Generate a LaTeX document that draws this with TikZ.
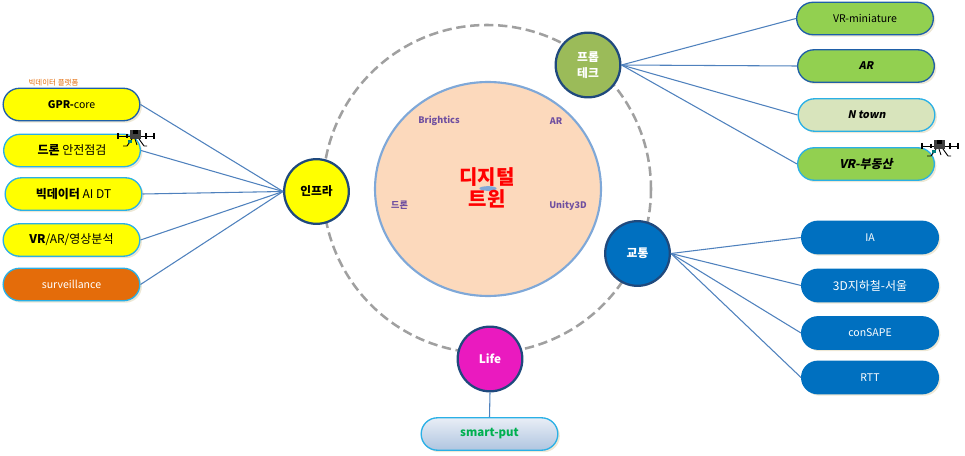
\documentclass[tikz,border=0pt]{standalone}
\usepackage{fontspec}
\setmainfont{Noto Sans CJK KR}
\newfontfamily\slantfont[FakeSlant=0.2]{Noto Sans CJK KR}
\usetikzlibrary{shapes.misc,shapes.geometric,shadows}

\definecolor{pillyellow}{HTML}{FFFF00}
\definecolor{pillgreen}{HTML}{92D050}
\definecolor{pillpale}{HTML}{D8E4BC}
\definecolor{pillblue}{HTML}{0070C0}
\definecolor{pillorange}{HTML}{E46C0A}
\definecolor{edgedark}{HTML}{1F5FA8}
\definecolor{edgecyan}{HTML}{2AB0E6}
\definecolor{linkblue}{HTML}{4F81BD}
\definecolor{ringnavy}{HTML}{1F497D}
\definecolor{ringgray}{HTML}{A0A0A0}
\definecolor{coreorange}{HTML}{FCD9BC}
\definecolor{coreedge}{HTML}{7FA8D8}
\definecolor{corepurple}{HTML}{6F4FA0}
\definecolor{techgreen}{HTML}{9BBB59}
\definecolor{lifepink}{HTML}{EA1ABF}
\definecolor{beige}{HTML}{EEE8D5}
\definecolor{puttop}{HTML}{E9EEF6}
\definecolor{putbottom}{HTML}{AFC5E0}
\definecolor{putgreen}{HTML}{00B050}

\tikzset{
	pill/.style={rounded rectangle,draw=edgedark,line width=1pt,minimum width=102.5pt,minimum height=24.3pt,inner sep=0pt,font=\fontsize{9}{10}\selectfont,drop shadow={shadow xshift=1.5pt,shadow yshift=-1.5pt,fill=beige,opacity=1}},
	latinpill/.style={pill,font=\fontsize{7.9}{10}\selectfont},
	hub/.style={circle,draw=ringnavy,line width=1.7pt,minimum size=48.5pt,inner sep=0pt,align=center,font=\fontsize{8.8}{12}\selectfont\bfseries},
	link/.style={linkblue,line width=0.8pt},
	corelabel/.style={text=corepurple,font=\fontsize{6.8}{9}\selectfont\bfseries},
	dronepic/.pic={
		\draw[black,line width=0.6pt] (-18,-1) -- (18,-1);
		\draw[black,line width=0.9pt] (-18,-4) -- (-18,2) (18,-4) -- (18,2) (10,-4) -- (10,2) (-9,-3) -- (-9,1);
		\fill[black!75] (-6,-7) rectangle (5,2);
		\fill[black] (-3,-7) rectangle (2,-3);
		\draw[black,line width=0.7pt] (-4,2) -- (-9,9) (3,2) -- (8,9) (8,9) -- (11,9) (-9,9) -- (-13,9) (-1,2) -- (1,8);
		\fill[teal] (-8,3) rectangle (-4,6);
	}
}

\begin{document}
\begin{tikzpicture}[x=0.75pt,y=-0.75pt]
	\useasboundingbox (0,0) rectangle (965,456);

	\draw[ringgray,line width=1.9pt,dash pattern=on 7pt off 3.5pt] (487,189) circle[radius=164];
	\node[ellipse,draw=coreedge,fill=coreorange,line width=1.6pt,minimum width=169.5pt,minimum height=160.5pt,inner sep=0pt] (core) at (488,189) {};
	\node[ellipse,fill=coreedge,minimum width=13pt,minimum height=3.5pt,inner sep=0pt] (coredot) at (488,188.5) {};
	\node[text=red,font=\fontsize{15}{17}\selectfont\bfseries,align=center] (coretitle) at (487,188) {디지털\\트윈};
	\node[corelabel] (brightics) at (439,121) {Brightics};
	\node[corelabel] (coreAR) at (556,121) {AR};
	\node[corelabel] (coredrone) at (399.5,205.5) {드론};
	\node[corelabel] (unity) at (568,205.5) {Unity3D};

	\node[hub,fill=pillyellow] (infra) at (316.5,191.5) {인프라};
	\node[hub,fill=techgreen,text=white] (tech) at (588,65) {프롭\\테크};
	\node[hub,fill=pillblue,text=white] (traffic) at (637.5,253.5) {교통};
	\node[hub,fill=lifepink,text=white] (life) at (490,359) {Life};

	\node[latinpill,fill=pillyellow] (gprcore) at (71.5,104.5) {{\bfseries GPR-}core};
	\node[pill,fill=pillyellow,draw=edgecyan] (dronecheck) at (72,150.5) {{\bfseries 드론} 안전점검};
	\node[pill,fill=pillyellow,draw=edgecyan] (bigdata) at (73.5,194) {{\bfseries 빅데이터} AI DT};
	\node[pill,fill=pillyellow,draw=edgecyan] (vrar) at (71.5,240) {{\bfseries VR}/AR/영상분석};
	\node[latinpill,fill=pillorange,text=white,draw=edgecyan] (surveillance) at (71.5,284.5) {surveillance};
	\node[text=pillorange,font=\fontsize{5.6}{6}\selectfont] (platform) at (53.5,82.5) {빅데이터 플랫폼};

	\node[latinpill,fill=pillgreen] (vrmini) at (865,18.5) {VR-miniature};
	\node[latinpill,fill=pillgreen] (techAR) at (866,66) {\slantfont\bfseries AR};
	\node[latinpill,fill=pillpale,draw=edgecyan] (ntown) at (866.5,115) {\slantfont\bfseries N town};
	\node[pill,fill=pillgreen,draw=edgecyan] (vrestate) at (866,164) {\slantfont\bfseries VR-부동산};

	\node[latinpill,fill=pillblue,draw=pillblue,text=white] (ia) at (870,237.5) {IA};
	\node[pill,fill=pillblue,draw=pillblue,text=white] (subway) at (870,285.5) {3D지하철-서울};
	\node[latinpill,fill=pillblue,draw=pillblue,text=white] (consape) at (870,333) {conSAPE};
	\node[latinpill,fill=pillblue,draw=pillblue,text=white] (rtt) at (870,377.5) {RTT};

	\node[pill,draw=edgecyan,top color=puttop,bottom color=putbottom,text=putgreen,font=\fontsize{8.6}{10}\selectfont\bfseries] (smartput) at (489.5,434) {smart-put};

	\draw[link] (gprcore.east) -- (infra.west);
	\draw[link] (dronecheck.east) -- (infra.west);
	\draw[link] (bigdata.east) -- (infra.west);
	\draw[link] (vrar.east) -- (infra.west);
	\draw[link] (surveillance.east) -- (infra.west);

	\draw[link] (tech.east) -- (vrmini.west);
	\draw[link] (tech.east) -- (techAR.west);
	\draw[link] (tech.east) -- (ntown.west);
	\draw[link] (tech.east) -- (vrestate.west);

	\draw[link] (traffic.east) -- (ia.west);
	\draw[link] (traffic.east) -- (subway.west);
	\draw[link] (traffic.east) -- (consape.west);
	\draw[link] (traffic.east) -- (rtt.west);

	\draw[link] (life.south) -- (smartput.north);

	\pic at (136,137) {dronepic};
	\pic at (940,147) {dronepic};
\end{tikzpicture}
\end{document}
